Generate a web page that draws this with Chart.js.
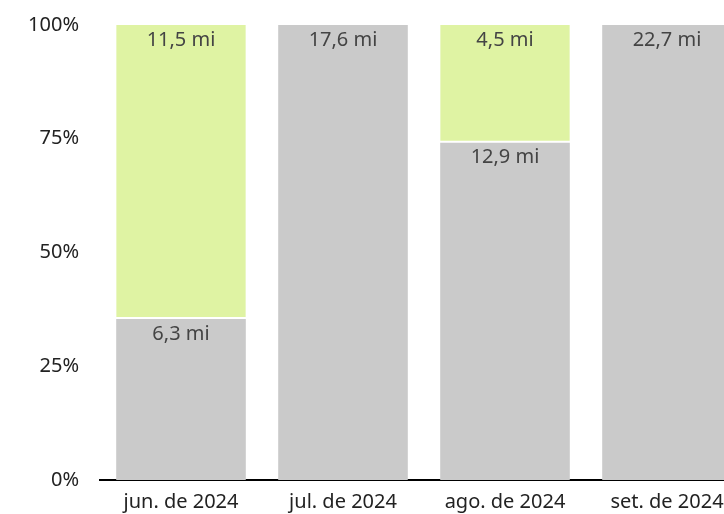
<!DOCTYPE html>
<html>
<head>
<meta charset="utf-8">
<script src="https://cdn.jsdelivr.net/npm/chart.js@4"></script>
<style>
  html, body { margin: 0; padding: 0; background: #fff; overflow: hidden; }
  #wrap { width: 748px; height: 514px; }
</style>
</head>
<body>
<div id="wrap"><canvas id="chart"></canvas></div>
<script>
// Data (miles per month)
const months = ['jun. de 2024', 'jul. de 2024', 'ago. de 2024', 'set. de 2024'];
const grayMiles = [6.3, 17.6, 12.9, 22.7];
const greenMiles = [11.5, 0, 4.5, 0];
const yTicks = [0, 25, 50, 75, 100];

const totals = months.map((m, i) => grayMiles[i] + greenMiles[i]);
const grayPct = grayMiles.map((v, i) => v / totals[i] * 100);
const greenPct = greenMiles.map((v, i) => v / totals[i] * 100);

const fmt = v => v.toFixed(1).replace('.', ',') + ' mi';
const FONT = 'Noto Sans';

// draws the "x,x mi" labels at the top of each segment
const segmentLabels = {
    id: 'segmentLabels',
    afterDatasetsDraw(chart) {
        const ctx = chart.ctx;
        const raw = [grayMiles, greenMiles];
        ctx.save();
        ctx.font = '20px "' + FONT + '"';
        ctx.fillStyle = '#444444';
        ctx.textAlign = 'center';
        ctx.textBaseline = 'middle';
        chart.data.datasets.forEach((ds, di) => {
            chart.getDatasetMeta(di).data.forEach((bar, i) => {
                const v = raw[di][i];
                if (!v) return;
                ctx.fillText(fmt(v), bar.x, bar.y + 15);
            });
        });
        ctx.restore();
    }
};

new Chart(document.getElementById('chart'), {
    type: 'bar',
    data: {
        labels: months,
        datasets: [{
            data: grayPct,
            backgroundColor: '#cacaca',
            barPercentage: 0.8,
            categoryPercentage: 1
        }, {
            data: greenPct,
            backgroundColor: '#dff3a3',
            borderColor: '#ffffff',
            borderWidth: { top: 0, left: 0, right: 0, bottom: 2 },
            borderSkipped: false,
            barPercentage: 0.8,
            categoryPercentage: 1
        }]
    },
    options: {
        responsive: true,
        maintainAspectRatio: false,
        animation: false,
        layout: { padding: { top: 12, left: 0, right: 0, bottom: 0 } },
        plugins: { legend: { display: false }, tooltip: { enabled: false } },
        scales: {
            x: {
                stacked: true,
                grid: { display: false },
                border: { display: true, color: '#000000', width: 2 },
                ticks: { color: '#222222', font: { family: FONT, size: 20 }, padding: 2, maxRotation: 0 },
                afterFit: s => { s.height = 34; }
            },
            y: {
                stacked: true,
                min: 0,
                max: 100,
                grid: { display: false },
                border: { display: false },
                afterBuildTicks: s => { s.ticks = yTicks.map(v => ({ value: v })); },
                ticks: { color: '#222222', font: { family: FONT, size: 20 }, padding: 13, callback: v => v + '%' },
                afterFit: s => { s.width = 100; }
            }
        }
    },
    plugins: [segmentLabels]
});
</script>
</body>
</html>
